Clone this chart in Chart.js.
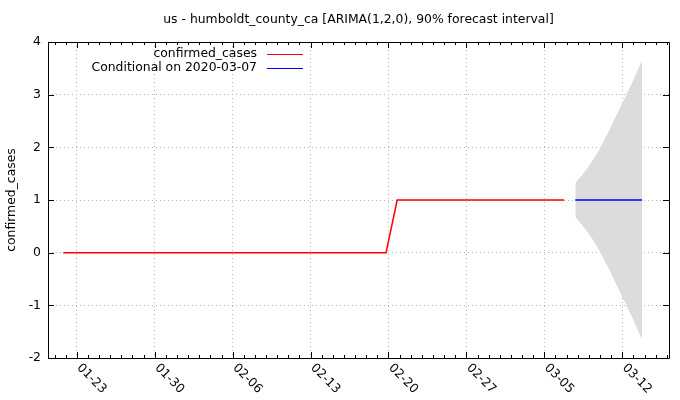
<!DOCTYPE html>
<html>
<head>
<meta charset="utf-8">
<script src="https://cdn.jsdelivr.net/npm/chart.js@4"></script>
<style>
  html, body { margin: 0; padding: 0; background: #fff; }
  #wrap { width: 680px; height: 400px; }
</style>
</head>
<body>
<div id="wrap"><canvas id="chart" width="680" height="400"></canvas></div>
<script>
    // Observed series (2020)
    const observedDates = ['01-22','01-23','01-24','01-25','01-26','01-27','01-28','01-29','01-30','01-31',
      '02-01','02-02','02-03','02-04','02-05','02-06','02-07','02-08','02-09','02-10',
      '02-11','02-12','02-13','02-14','02-15','02-16','02-17','02-18','02-19','02-20',
      '02-21','02-22','02-23','02-24','02-25','02-26','02-27','02-28','02-29','03-01',
      '03-02','03-03','03-04','03-05','03-06','03-07'];
    const confirmedCases = [0,0,0,0,0,0,0,0,0,0,
      0,0,0,0,0,0,0,0,0,0,
      0,0,0,0,0,0,0,0,0,0,
      1,1,1,1,1,1,1,1,1,1,
      1,1,1,1,1,1];

    // Forecast (conditional on 2020-03-07)
    const forecastDates = ['03-08','03-09','03-10','03-11','03-12','03-13','03-14'];
    const forecastMean  = [1, 1, 1, 1, 1, 1, 1];
    const forecastUpper = [1.32, 1.58, 1.90, 2.30, 2.74, 3.18, 3.65];
    const forecastLower = [0.68, 0.42, 0.10, -0.30, -0.74, -1.18, -1.65];

    // Axis ticks
    const xTickLabels = ['01-23','01-30','02-06','02-13','02-20','02-27','03-05','03-12'];
    const yTicks = [-2, -1, 0, 1, 2, 3, 4];

    const FONT = '"DejaVu Sans", sans-serif';
    const FSIZE = 12.4;
    const TICK_SHIFT = 0.22; // gnuplot ticks sit a bit right of the data days

    function dayOf(md) {
      const [m, d] = md.split('-').map(Number);
      return (Date.UTC(2020, m - 1, d) - Date.UTC(2020, 0, 22)) / 86400000;
    }
    const pts = (dates, vals) => dates.map((d, i) => ({ x: dayOf(d), y: vals[i] }));
    const xTickDays = xTickLabels.map(l => dayOf(l) + TICK_SHIFT);

    const gnuplotFrame = {
      id: 'gnuplotFrame',
      afterDraw(chart) {
        const ctx = chart.ctx;
        const a = chart.chartArea;
        const xs = chart.scales.x, ys = chart.scales.y;
        ctx.save();
        ctx.strokeStyle = '#000';
        ctx.lineWidth = 1;
        ctx.beginPath();
        ctx.rect(a.left + 0.5, a.top + 0.5, a.right - a.left, a.bottom - a.top);
        // minor x ticks (daily)
        for (let d = Math.ceil(xs.min - TICK_SHIFT); d + TICK_SHIFT <= xs.max; d++) {
          const px = Math.round(xs.getPixelForValue(d + TICK_SHIFT)) + 0.5;
          const major = xTickDays.some(v => Math.abs(v - d - TICK_SHIFT) < 1e-6);
          const len = major ? 6 : 3;
          ctx.moveTo(px, a.bottom); ctx.lineTo(px, a.bottom - len);
          ctx.moveTo(px, a.top); ctx.lineTo(px, a.top + len);
        }
        yTicks.forEach(v => {
          const py = Math.round(ys.getPixelForValue(v)) + 0.5;
          ctx.moveTo(a.left, py); ctx.lineTo(a.left + 6, py);
          ctx.moveTo(a.right, py); ctx.lineTo(a.right - 6, py);
        });
        ctx.stroke();

        ctx.fillStyle = '#000';
        ctx.font = FSIZE + 'px ' + FONT;
        // rotated x tick labels
        xTickDays.forEach((v, i) => {
          const px = xs.getPixelForValue(v);
          ctx.save();
          ctx.translate(px + 2, a.bottom + 8);
          ctx.rotate(Math.PI / 4);
          ctx.textAlign = 'left';
          ctx.textBaseline = 'middle';
          ctx.fillText(xTickLabels[i], 0, 0);
          ctx.restore();
        });
        // title
        ctx.textAlign = 'center';
        ctx.textBaseline = 'middle';
        ctx.fillText('us - humboldt_county_ca [ARIMA(1,2,0), 90% forecast interval]', (a.left + a.right) / 2, 20);
        // y axis label
        ctx.save();
        ctx.translate(12, (a.top + a.bottom) / 2);
        ctx.rotate(-Math.PI / 2);
        ctx.fillText('confirmed_cases', 0, 0);
        ctx.restore();
        // key
        const keys = [chart.data.datasets[1], chart.data.datasets[0]];
        keys.forEach((ds, i) => {
          const y = 54 + i * 14;
          ctx.textAlign = 'right';
          ctx.fillStyle = '#000';
          ctx.fillText(ds.label, 257, y);
          ctx.strokeStyle = ds.borderColor;
          ctx.beginPath();
          ctx.moveTo(267, y + 0.5); ctx.lineTo(303, y + 0.5);
          ctx.stroke();
        });
        ctx.restore();
      }
    };

    const gridOpts = { color: '#b4b4b4', lineWidth: 1, drawTicks: false };

    new Chart(document.getElementById('chart'), {
      type: 'line',
      data: {
        datasets: [
          { label: 'Conditional on 2020-03-07', data: pts(forecastDates, forecastMean),
            borderColor: '#0000ff', borderWidth: 1.5, pointRadius: 0, fill: false },
          { label: 'confirmed_cases', data: pts(observedDates, confirmedCases),
            borderColor: '#ff0000', borderWidth: 1.5, pointRadius: 0, fill: false },
          { label: 'lower', data: pts(forecastDates, forecastLower), tension: 0.25,
            borderWidth: 0, borderColor: 'rgba(0,0,0,0)', pointRadius: 0, fill: false },
          { label: 'upper', data: pts(forecastDates, forecastUpper), tension: 0.25,
            borderWidth: 0, borderColor: 'rgba(0,0,0,0)', pointRadius: 0,
            fill: '-1', backgroundColor: '#dcdcdc' }
        ]
      },
      options: {
        responsive: false,
        animation: false,
        layout: { padding: { top: 42, right: 11, left: 0, bottom: 0 } },
        plugins: { legend: { display: false }, tooltip: { enabled: false }, title: { display: false } },
        scales: {
          x: {
            type: 'linear', min: -1.37, max: 54.42,
            grid: gridOpts,
            border: { display: false, dash: [1, 3] },
            ticks: { display: false },
            afterBuildTicks: s => { s.ticks = xTickDays.map(v => ({ value: v })); },
            afterFit: s => { s.height = 42; }
          },
          y: {
            min: -2, max: 4,
            grid: gridOpts,
            border: { display: false, dash: [1, 3] },
            ticks: { stepSize: 1, color: '#000', padding: 7, font: { family: FONT, size: FSIZE } },
            afterFit: s => { s.width = 48; }
          }
        }
      },
      plugins: [gnuplotFrame]
    });
</script>
</body>
</html>
